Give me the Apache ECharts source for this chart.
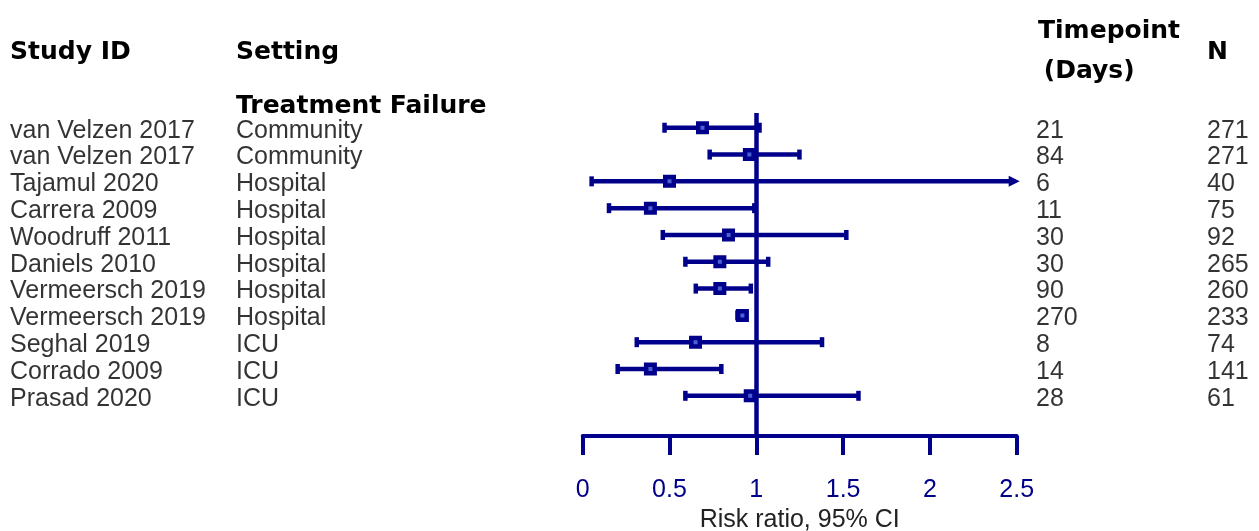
<!DOCTYPE html>
<html>
<head>
<meta charset="utf-8">
<script src="https://cdn.jsdelivr.net/npm/echarts@6/dist/echarts.min.js"></script>
<style>
html,body{margin:0;padding:0;background:#fff;}
#chart{width:1259px;height:531px;}
</style>
</head>
<body>
<div id="chart"></div>
<script>
// ---- data ----
const studies = ['van Velzen 2017','van Velzen 2017','Tajamul 2020','Carrera 2009','Woodruff 2011','Daniels 2010','Vermeersch 2019','Vermeersch 2019','Seghal 2019','Corrado 2009','Prasad 2020'];
const settings = ['Community','Community','Hospital','Hospital','Hospital','Hospital','Hospital','Hospital','ICU','ICU','ICU'];
const timepoints = [21, 84, 6, 11, 30, 30, 90, 270, 8, 14, 28];
const nValues = [271, 271, 40, 75, 92, 265, 260, 233, 74, 141, 61];
const riskRatio = [0.69, 0.96, 0.50, 0.39, 0.84, 0.79, 0.79, 0.92, 0.65, 0.39, 0.965];
const ciLower = [0.47, 0.73, 0.05, 0.15, 0.46, 0.59, 0.65, 0.89, 0.31, 0.20, 0.59];
const ciUpper = [1.02, 1.25, 5.17, 0.99, 1.52, 1.07, 0.97, 0.94, 1.38, 0.80, 1.59];
const xTicks = [0, 0.5, 1, 1.5, 2, 2.5];
const headers = { study: 'Study ID', setting: 'Setting', group: 'Treatment Failure', time1: 'Timepoint', time2: ' (Days)', n: 'N' };
const axisTitle = 'Risk ratio, 95% CI';

// ---- layout / style ----
const NAVY = '#00008B';
const X_MIN = xTicks[0], X_MAX = xTicks[xTicks.length - 1], X_INT = 0.5;
const Y_MIN = -0.55, Y_MAX = 11.5;
const GRID_TOP = 113, GRID_BOTTOM = 95;
const REG = 'Liberation Sans, Arial, sans-serif';
const COLS = [
  { values: studies, x: 10 },
  { values: settings, x: 236 },
  { values: timepoints, x: 1036 },
  { values: nValues, x: 1207 }
];

const chart = echarts.init(document.getElementById('chart'), null, { renderer: 'canvas' });

const ciData = ciLower.map((lo, i) => [lo, ciUpper[i], i]);
const pointData = riskRatio.map((v, i) => [v, i]);

const textSeries = COLS.map(col => ({
  type: 'scatter',
  xAxisIndex: 1, yAxisIndex: 1,
  symbolSize: 0,
  silent: true,
  data: col.values.map((v, i) => ({ value: [col.x, i], name: String(v) })),
  label: {
    show: true, position: 'right', distance: 0, offset: [0, 3],
    formatter: p => p.name,
    fontFamily: REG, fontSize: 25, color: '#000'
  }
}));

const headText = (text, x, y) => ({
  type: 'text', x: x, y: y, silent: true,
  style: { text, font: 'bold 25px DejaVu Sans, sans-serif', fill: '#000', align: 'left', verticalAlign: 'middle' }
});

const gridBase = { outerBoundsMode: 'none', containLabel: false, top: GRID_TOP, bottom: GRID_BOTTOM };

const option = {
  animation: false,
  grid: [
    Object.assign({ left: 582.7, right: 1259 - 1016.7 }, gridBase),
    Object.assign({ left: 0, right: 0 }, gridBase)
  ],
  xAxis: [
    {
      gridIndex: 0, type: 'value', position: 'bottom', min: X_MIN, max: X_MAX, interval: X_INT,
      axisLine: { show: true, onZero: false, lineStyle: { color: NAVY, width: 4 } },
      axisTick: { show: true, length: 19, lineStyle: { color: NAVY, width: 4 } },
      axisLabel: { color: NAVY, fontFamily: REG, fontSize: 25, margin: 42, showMinLabel: true, showMaxLabel: true },
      splitLine: { show: false },
      name: axisTitle, nameLocation: 'middle', nameGap: 70,
      nameTextStyle: { fontFamily: REG, fontSize: 25, color: '#222' }
    },
    { gridIndex: 1, type: 'value', min: 0, max: 1259, show: false }
  ],
  yAxis: [
    { gridIndex: 0, type: 'value', min: Y_MIN, max: Y_MAX, inverse: true, show: false },
    { gridIndex: 1, type: 'value', min: Y_MIN, max: Y_MAX, inverse: true, show: false }
  ],
  graphic: [
    headText(headers.study, 10, 52),
    headText(headers.setting, 236, 52),
    headText(headers.group, 236, 106),
    headText(headers.time1, 1038, 31),
    headText(headers.time2, 1035, 71.5),
    headText(headers.n, 1207, 52.5)
  ],
  series: [
    {
      type: 'custom',
      xAxisIndex: 0, yAxisIndex: 0,
      silent: true,
      clip: false,
      encode: { x: [0, 1], y: 2 },
      data: ciData,
      renderItem: function (params, api) {
        const lo = api.value(0), hi = api.value(1), idx = api.value(2);
        const clipped = hi > X_MAX;
        const p0 = api.coord([lo, idx]);
        const p1 = api.coord([Math.min(hi, X_MAX), idx]);
        const y = p0[1];
        const style = { fill: NAVY };
        const children = [];
        const lineEnd = clipped ? p1[0] - 6 : p1[0];
        children.push({ type: 'line', shape: { x1: p0[0], y1: y, x2: lineEnd, y2: y }, style: { stroke: NAVY, lineWidth: 4.5 } });
        children.push({ type: 'rect', shape: { x: p0[0] - 2, y: y - 5, width: 4.5, height: 10 }, style });
        if (clipped) {
          children.push({ type: 'polygon', shape: { points: [[p1[0] - 8, y - 5.5], [p1[0] + 3, y], [p1[0] - 8, y + 5.5]] }, style });
        } else {
          children.push({ type: 'rect', shape: { x: p1[0] - 2.5, y: y - 5, width: 4.5, height: 10 }, style });
        }
        return { type: 'group', children };
      },
      z: 2
    },
    {
      type: 'scatter',
      xAxisIndex: 0, yAxisIndex: 0,
      silent: true,
      symbol: 'rect',
      symbolSize: 8.5,
      data: pointData,
      itemStyle: { color: '#4b62d6', borderColor: NAVY, borderWidth: 4.5, opacity: 1 },
      z: 4,
      markLine: {
        silent: true,
        symbol: ['none', 'none'],
        label: { show: false },
        lineStyle: { color: NAVY, width: 4.5, type: 'solid' },
        data: [{ xAxis: 1 }],
        z: 3
      }
    },
    ...textSeries
  ]
};

chart.setOption(option);
</script>
</body>
</html>
